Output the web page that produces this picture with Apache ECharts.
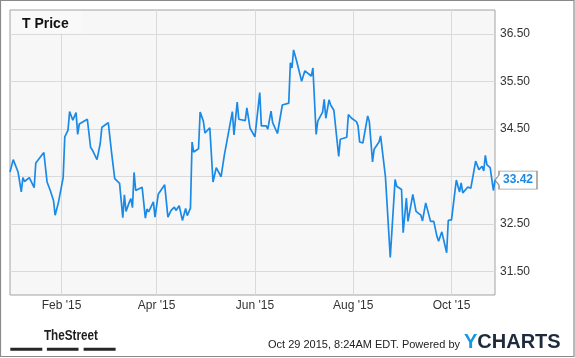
<!DOCTYPE html>
<html>
<head>
<meta charset="utf-8">
<script src="https://cdn.jsdelivr.net/npm/echarts@6/dist/echarts.min.js"></script>
<style>
html,body{margin:0;padding:0;background:#fff;}
#chart{width:575px;height:358px;}
</style>
</head>
<body>
<div id="chart"></div>
<script>
// days after 2015-01-01 (trading-day samples)
const dayOffsets = [-1,1,4,5,6,7,8,11,12,14,15,20,22,24,26,27,29,30,32,33,35,36,38,40,41,42,47,49,50,53,55,56,58,60,62,63,64,67,69,70,71,73,74,75,76,77,81,83,84,85,88,89,91,95,97,99,101,102,104,106,108,109,111,112,113,116,117,119,120,123,125,126,127,130,132,137,138,140,141,145,146,148,151,154,155,158,159,161,162,165,168,169,172,173,174,175,177,180,182,186,187,189,190,193,194,195,197,198,200,203,204,208,209,211,214,215,216,218,221,222,224,225,228,229,230,232,235,238,239,242,243,245,246,249,251,254,255,257,260,262,264,265,267,270,271,273,276,278,279,280,283,285,288,290,292,293,294,295,297,299,300];
const closePrices = [33.59,33.85,33.59,33.61,33.17,33.47,33.39,33.47,33.47,33.26,33.78,34.00,33.38,33.20,32.99,32.68,32.94,32.92,33.47,34.33,34.47,34.86,34.68,34.84,34.38,34.60,34.70,34.11,34.06,33.85,34.19,34.53,34.58,34.63,34.01,34.00,33.45,33.35,32.63,33.11,32.76,32.95,33.03,32.84,33.58,33.20,33.27,32.62,32.81,32.75,32.96,32.64,33.12,33.32,32.64,32.78,32.85,32.78,32.88,32.57,32.82,32.67,32.83,34.22,34.01,34.08,34.85,34.66,34.41,34.52,33.38,33.35,33.68,33.49,33.94,34.86,34.37,35.06,34.70,34.67,34.94,34.51,34.33,35.26,34.56,34.56,34.49,34.87,34.63,34.40,35.00,34.99,35.04,35.89,35.78,36.16,35.91,35.50,35.72,35.61,35.78,34.38,34.66,34.85,35.12,34.72,35.11,35.00,34.89,33.92,34.28,34.32,34.80,34.72,34.65,34.56,34.22,34.20,34.77,34.65,33.80,34.07,34.22,34.35,34.35,33.49,31.79,33.43,33.29,33.22,32.31,33.04,32.55,33.12,32.76,32.68,32.56,32.94,32.55,32.55,32.23,32.13,32.33,31.89,32.57,32.58,33.42,33.17,33.36,33.15,33.27,33.25,33.82,33.64,33.71,33.61,33.94,33.74,33.68,33.20,33.42];
const xTickDays = [31, 90, 151, 212, 273]; // Feb 1, Apr 1, Jun 1, Aug 1, Oct 1
const yTicks = [31.5, 32.5, 33.5, 34.5, 35.5, 36.5];
const monthNames = ['Jan','Feb','Mar','Apr','May','Jun','Jul','Aug','Sep','Oct','Nov','Dec'];
const seriesName = 'T Price';

const toTime = d => new Date(2015, 0, 1 + d).getTime();
const seriesData = dayOffsets.map((d, i) => [toTime(d), closePrices[i]]);
const lastIdx = closePrices.length - 1;
const lineColor = '#1b8ae6';
const font = "'Liberation Sans', Arial, sans-serif";

const chart = echarts.init(document.getElementById('chart'), null, {renderer: 'canvas'});
chart.setOption({
  animation: false,
  backgroundColor: '#ffffff',
  grid: {
    left: 10, right: 80, top: 10, bottom: 63,
    show: true, backgroundColor: '#f7f7f7', borderColor: '#a3a3a3', borderWidth: 1,
    containLabel: false
  },
  xAxis: {
    type: 'value',
    min: toTime(dayOffsets[0]),
    max: toTime(dayOffsets[lastIdx]),
    axisLine: {show: false},
    axisTick: {show: false, customValues: xTickDays.map(toTime)},
    axisLabel: {
      customValues: xTickDays.map(toTime),
      color: '#333', fontSize: 12, fontFamily: font, margin: 5,
      formatter: v => { const d = new Date(v); return monthNames[d.getMonth()] + " '" + String(d.getFullYear()).slice(2); }
    },
    splitLine: {show: true, lineStyle: {color: '#dadada', width: 1}}
  },
  yAxis: {
    type: 'value',
    position: 'right',
    min: 31, max: 37,
    axisLine: {show: false},
    axisTick: {show: false, customValues: yTicks},
    axisLabel: {
      customValues: yTicks,
      color: '#333', fontSize: 12, fontFamily: font, margin: 5,
      formatter: v => v.toFixed(2)
    },
    splitLine: {show: true, lineStyle: {color: '#dadada', width: 1}}
  },
  series: [{
    name: seriesName,
    type: 'line',
    data: seriesData,
    showSymbol: false,
    symbol: 'none',
    z: 5,
    lineStyle: {color: lineColor, width: 1.7},
    markPoint: {
      silent: true,
      symbol: 'path://M4,0 L42,0 L42,18 L4,18 L4,14 L0,9 L4,4 Z',
      symbolSize: [42, 18],
      symbolOffset: [21, 0],
      symbolKeepAspect: false,
      itemStyle: {color: '#ffffff', borderColor: '#999999', borderWidth: 1},
      label: {
        show: true, position: 'inside', offset: [2, 0],
        color: lineColor, fontWeight: 'bold', fontSize: 12, fontFamily: font,
        formatter: () => closePrices[lastIdx].toFixed(2)
      },
      data: [{coord: seriesData[lastIdx], value: closePrices[lastIdx]}]
    }
  }],
  graphic: [
    {type: 'rect', silent: true, z: 10,
     shape: {x: 0.5, y: 0.5, width: 573.5, height: 356},
     style: {fill: 'none', stroke: '#8a8a8a', lineWidth: 1.2}},
    {type: 'rect', silent: true, z: 10,
     shape: {x: 11, y: 11, width: 71, height: 22.5},
     style: {fill: '#f9f9f9'}},
    {type: 'text', silent: true, z: 11, x: 22, y: 24.5,
     style: {text: seriesName, font: "bold 14px " + font, fill: '#111', verticalAlign: 'middle', align: 'left'}},
    {type: 'text', silent: true, z: 11, x: 36, y: 336, scaleX: 0.78, originX: 36,
     style: {text: 'TheStreet', font: "bold 15px " + font, fill: '#1e1e1e', verticalAlign: 'middle', align: 'left'}},
    {type: 'rect', silent: true, z: 11, shape: {x: 10.3, y: 347.7, width: 32, height: 3}, style: {fill: '#262626'}},
    {type: 'rect', silent: true, z: 11, shape: {x: 46.9, y: 347.7, width: 31.6, height: 3}, style: {fill: '#262626'}},
    {type: 'rect', silent: true, z: 11, shape: {x: 83.6, y: 347.7, width: 32, height: 3}, style: {fill: '#262626'}},
    {type: 'text', silent: true, z: 11, x: 460, y: 344.5,
     style: {text: 'Oct 29 2015, 8:24AM EDT. Powered by', font: "11px " + font, fill: '#222', verticalAlign: 'middle', align: 'right'}},
    {type: 'text', silent: true, z: 11, x: 464, y: 342.5,
     style: {
       text: '{y|Y}{c|CHARTS}', verticalAlign: 'middle', align: 'left',
       rich: {
         y: {font: "bold 20px " + font, fill: '#1598e0'},
         c: {font: "bold 20px " + font, fill: '#1d2b3d'}
       }
     }}
  ]
});
</script>
</body>
</html>
